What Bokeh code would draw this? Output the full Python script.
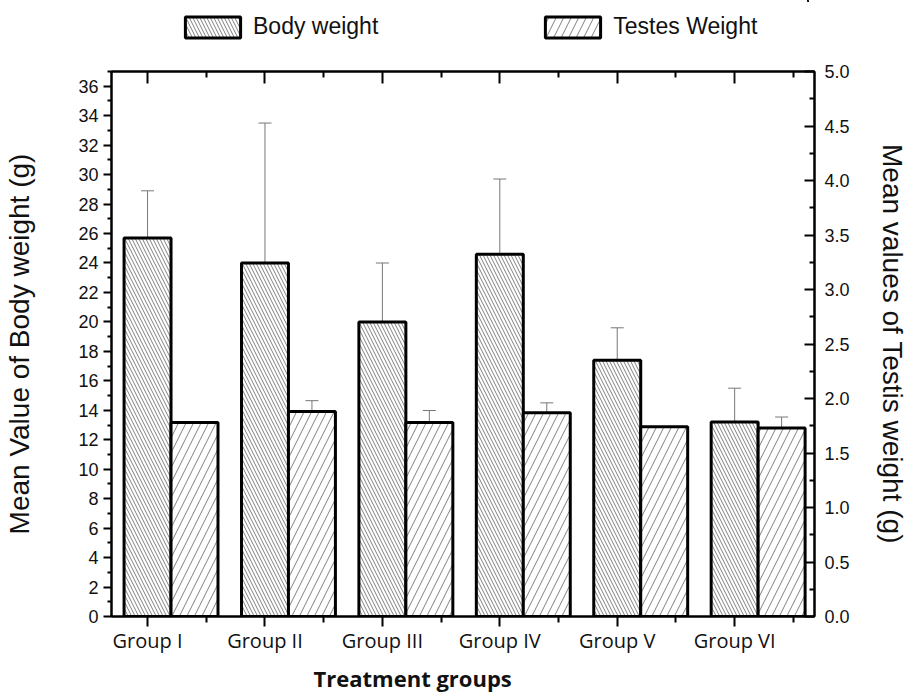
from bokeh.plotting import figure
from bokeh.layouts import column
from bokeh.models import (Range1d, LinearAxis, FixedTicker, Whisker, TeeHead, Title,
                          ColumnDataSource, Legend, LegendItem, PrintfTickFormatter)
from bokeh.embed import file_html
from bokeh.resources import INLINE

groups = ["Group I", "Group II", "Group III", "Group IV", "Group V", "Group VI"]
body_mean = [25.7, 24.0, 20.0, 24.6, 17.4, 13.2]
body_err = [3.2, 9.5, 4.0, 5.1, 2.2, 2.3]
testes_mean = [1.78, 1.88, 1.78, 1.87, 1.74, 1.73]
testes_err = [0.0, 0.10, 0.11, 0.09, 0.0, 0.10]
left_ticks = list(range(0, 37, 2))
left_minor = list(range(1, 38, 2))
right_ticks = [0.0, 0.5, 1.0, 1.5, 2.0, 2.5, 3.0, 3.5, 4.0, 4.5, 5.0]
right_minor = [0.25, 0.75, 1.25, 1.75, 2.25, 2.75, 3.25, 3.75, 4.25, 4.75]
series_names = ["Body weight", "Testes Weight"]

BAR_W = 0.4
idx = list(range(len(groups)))
tx = [i + BAR_W for i in idx]

body_style = dict(fill_color="white", line_color="black", line_width=3,
                  hatch_pattern="left_diagonal_line", hatch_color="#808080",
                  hatch_scale=7, hatch_weight=1)
test_style = dict(fill_color="white", line_color="black", line_width=3,
                  hatch_pattern="right_diagonal_line", hatch_color="#808080",
                  hatch_scale=15, hatch_weight=1)

body_src = ColumnDataSource(dict(x=idx, top=body_mean,
                                 upper=[m + e for m, e in zip(body_mean, body_err)]))
test_src = ColumnDataSource(dict(x=tx, top=testes_mean,
                                 upper=[m + e for m, e in zip(testes_mean, testes_err)]))

AX_FONT = "Liberation Sans"

# ---------------- legend strip (its view range shows none of the bars) ----------------
lg = figure(width=904, height=50, x_range=Range1d(-100, -99), y_range=Range1d(-100, -99),
            x_axis_type=None, y_axis_type=None, output_backend="svg",
            toolbar_location=None, min_border=0)
lg.outline_line_color = None
lg.xgrid.visible = False
lg.ygrid.visible = False
lrb = lg.vbar(x="x", top="top", width=BAR_W, source=body_src, **body_style)
lrt = lg.vbar(x="x", top="top", width=BAR_W, source=test_src, **test_style)
legend = Legend(items=[LegendItem(label=series_names[0], renderers=[lrb]),
                       LegendItem(label=series_names[1], renderers=[lrt])],
                orientation="horizontal", location=(67, 10),
                glyph_width=69, glyph_height=26, label_standoff=6, spacing=160,
                padding=0, margin=0, border_line_color=None, background_fill_alpha=0,
                label_text_font=AX_FONT, label_text_font_size="23px",
                label_text_color="#111111", label_height=22)
lg.add_layout(legend, "center")

# ---------------- main chart ----------------
p = figure(frame_width=703, frame_height=545, x_range=Range1d(-0.307, 5.68),
           y_range=Range1d(0, 37),
           output_backend="svg", toolbar_location=None,
           min_border_left=111, min_border_right=86, min_border_top=21, min_border_bottom=10)
p.extra_y_ranges = {"right": Range1d(0, 5)}
p.xgrid.visible = False
p.ygrid.visible = False
p.outline_line_color = "black"
p.outline_line_width = 2

wb = Whisker(source=body_src, base="x", lower="top", upper="upper", dimension="height",
             line_color="#777777", line_width=1, level="underlay",
             upper_head=TeeHead(size=13, line_color="#777777", line_width=1), lower_head=None)
wt = Whisker(source=test_src, base="x", lower="top", upper="upper", dimension="height",
             y_range_name="right", line_color="#777777", line_width=1, level="underlay",
             upper_head=TeeHead(size=13, line_color="#777777", line_width=1), lower_head=None)
p.add_layout(wb)
p.add_layout(wt)

rb = p.vbar(x="x", top="top", width=BAR_W, source=body_src, **body_style)
rt = p.vbar(x="x", top="top", width=BAR_W, source=test_src, y_range_name="right",
            **test_style)

xt = FixedTicker(ticks=idx, minor_ticks=[i + 0.5 for i in idx])

xa = p.xaxis[0]
xa.ticker = xt
xa.major_label_overrides = {i: g for i, g in zip(idx, groups)}
xa.axis_line_width = 2
xa.major_tick_line_width = 2
xa.minor_tick_line_width = 2
xa.major_tick_in = 0
xa.major_tick_out = 10
xa.minor_tick_in = 0
xa.minor_tick_out = 6
xa.major_label_text_font = "Open Sans"
xa.major_label_text_font_size = "20px"
xa.major_label_text_color = "#111111"
xa.major_label_standoff = 0

xtitle = Title(text="Treatment groups", align="left", offset=202,
               text_font="Open Sans", text_font_size="22px", text_font_style="bold",
               text_color="#111111", standoff=8)
p.add_layout(xtitle, "below")

ta = LinearAxis(ticker=xt, major_label_text_font_size="0px", major_label_text_color=None,
                major_tick_in=12, major_tick_out=0, minor_tick_in=6, minor_tick_out=0,
                axis_line_width=2, major_tick_line_width=2, minor_tick_line_width=2,
                major_label_standoff=0)
p.add_layout(ta, "above")

ya = p.yaxis[0]
ya.ticker = FixedTicker(ticks=left_ticks, minor_ticks=left_minor)
ya.axis_line_width = 2
ya.major_tick_line_width = 2
ya.minor_tick_line_width = 2
ya.major_tick_in = 0
ya.major_tick_out = 8
ya.minor_tick_in = 0
ya.minor_tick_out = 4
ya.major_label_text_font = AX_FONT
ya.major_label_text_font_size = "18px"
ya.major_label_text_color = "#111111"
ya.major_label_standoff = 5
ya.axis_label = "Mean Value of Body weight (g)"
ya.axis_label_text_font = AX_FONT
ya.axis_label_text_font_size = "28px"
ya.axis_label_text_font_style = "normal"
ya.axis_label_text_color = "#111111"
ya.axis_label_standoff = 40

ra = LinearAxis(y_range_name="right",
                ticker=FixedTicker(ticks=right_ticks, minor_ticks=right_minor),
                formatter=PrintfTickFormatter(format="%.1f"),
                major_tick_in=10, major_tick_out=0, minor_tick_in=5, minor_tick_out=0,
                axis_line_width=2, major_tick_line_width=2, minor_tick_line_width=2,
                major_label_text_font=AX_FONT, major_label_text_font_size="18px",
                major_label_text_color="#111111", major_label_standoff=10,
                axis_label="Mean values of Testis weight (g)",
                axis_label_text_font=AX_FONT, axis_label_text_font_size="28px",
                axis_label_text_font_style="normal", axis_label_text_color="#111111",
                axis_label_standoff=24)
p.add_layout(ra, "right")

layout = column(lg, p, spacing=0)
open("out.html", "w").write(file_html(layout, INLINE))
